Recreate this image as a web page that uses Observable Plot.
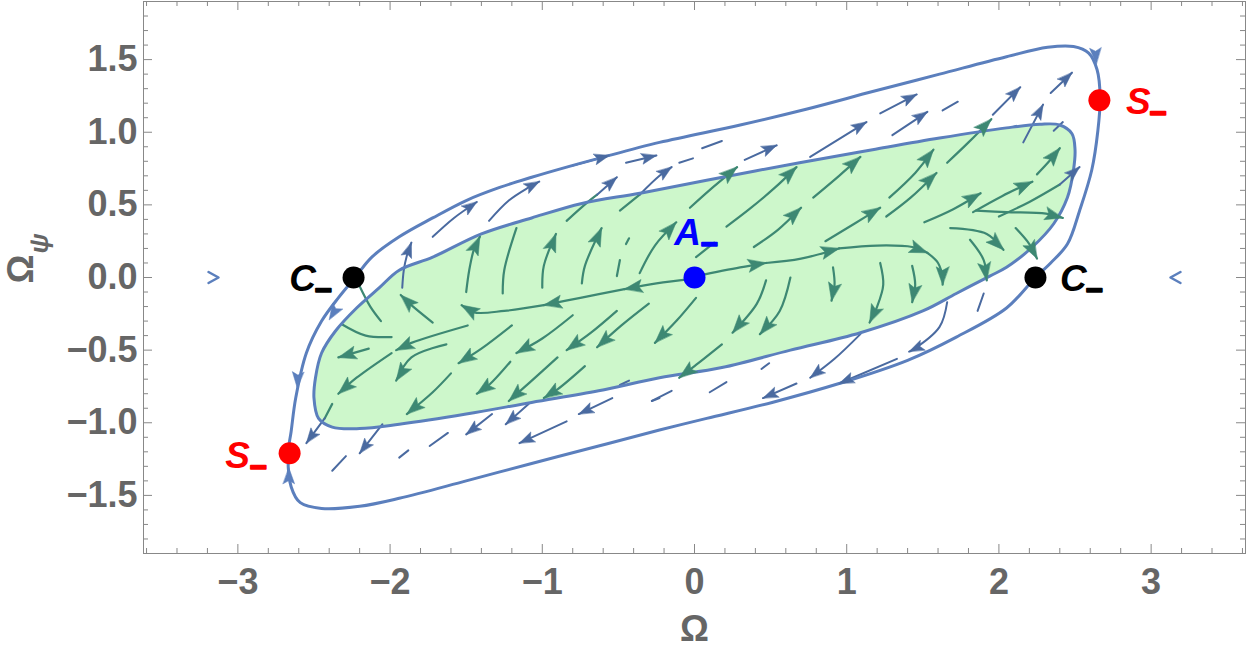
<!DOCTYPE html>
<html><head><meta charset="utf-8">
<script src="https://cdn.jsdelivr.net/npm/d3@7"></script>
<script src="https://cdn.jsdelivr.net/npm/@observablehq/plot@0.6"></script>
<style>body{margin:0;background:#fff}</style>
</head><body><div id="chart"></div>
<script>
// ---------- data ----------
const outerCurve = [[-2.23,0],[-2.12,0.14],[-1.94,0.28],[-1.72,0.41],[-1.50,0.53],[-1.28,0.62],[-1.07,0.69],[-0.84,0.76],[-0.63,0.82],[-0.23,0.93],[0.30,1.05],[0.74,1.16],[1.17,1.28],[1.61,1.40],[2.05,1.52],[2.32,1.585],[2.49,1.59],[2.59,1.545],[2.645,1.43],[2.665,1.24],[2.65,1.01],[2.61,0.74],[2.53,0.46],[2.45,0.23],[2.34,0.10],[2.24,0],[2.05,-0.21],[1.72,-0.41],[1.40,-0.57],[0.95,-0.73],[0.51,-0.86],[0.08,-0.97],[-0.23,-1.05],[-0.63,-1.16],[-1.07,-1.28],[-1.50,-1.40],[-1.94,-1.52],[-2.20,-1.575],[-2.45,-1.59],[-2.59,-1.55],[-2.65,-1.44],[-2.67,-1.21],[-2.65,-1.06],[-2.62,-0.83],[-2.55,-0.52],[-2.45,-0.30],[-2.34,-0.14]];

const innerCurve = [[-0.36,0.58],[0.08,0.67],[0.69,0.79],[1.17,0.88],[1.61,0.96],[2.05,1.03],[2.27,1.055],[2.40,1.05],[2.48,0.99],[2.50,0.88],[2.49,0.74],[2.45,0.55],[2.36,0.37],[2.22,0.21],[2.05,0.07],[1.94,0.01],[1.72,-0.11],[1.50,-0.23],[1.09,-0.38],[0.63,-0.50],[0.18,-0.62],[-0.23,-0.69],[-0.63,-0.78],[-1.07,-0.86],[-1.50,-0.94],[-1.94,-1.01],[-2.20,-1.04],[-2.38,-1.03],[-2.47,-0.97],[-2.50,-0.83],[-2.49,-0.69],[-2.45,-0.52],[-2.36,-0.37],[-2.22,-0.21],[-2.07,-0.07],[-1.94,0.05],[-1.72,0.14],[-1.40,0.30],[-1.07,0.41],[-0.74,0.51]];

// stream segments inside the green region that end with an arrowhead
const greenArrowed = [
 [[0.01,0.01],[0.30,0.07],[0.47,0.10]],
 [[0.47,0.10],[0.70,0.13],[0.95,0.20]],
 [[0.95,0.20],[1.20,0.22],[1.43,0.21],[1.53,0.17]],
 [[1.53,0.17],[1.60,0.10],[1.63,0.0],[1.63,-0.05]],
 [[-0.01,-0.01],[-0.25,-0.04],[-0.46,-0.08]],
 [[-0.46,-0.08],[-0.75,-0.14],[-0.99,-0.19]],
 [[-0.99,-0.19],[-1.25,-0.23],[-1.45,-0.24],[-1.53,-0.19]],
 [[-0.36,0.03],[-0.26,0.22],[-0.12,0.38]],
 [[-0.03,0.48],[0.12,0.62],[0.28,0.76]],
 [[0.21,0.35],[0.36,0.47],[0.53,0.62],[0.67,0.76]],
 [[0.39,0.21],[0.55,0.33],[0.70,0.48]],
 [[0.78,0.55],[0.95,0.70],[1.09,0.83]],
 [[0.86,0.25],[1.05,0.37],[1.22,0.48]],
 [[1.28,0.55],[1.45,0.72],[1.57,0.88]],
 [[1.26,0.42],[1.42,0.55],[1.59,0.72]],
 [[1.66,0.79],[1.80,0.93],[1.95,1.09]],
 [[1.51,0.38],[1.70,0.47],[1.88,0.58]],
 [[1.83,0.45],[2.02,0.56],[2.22,0.66]],
 [[2.25,0.71],[2.33,0.80],[2.40,0.89]],
 [[1.85,0.46],[2.05,0.45],[2.31,0.44],[2.42,0.41]],
 [[1.68,0.34],[1.92,0.30],[2.03,0.19]],
 [[1.81,0.26],[1.90,0.12],[1.92,-0.02]],
 [[2.11,0.34],[2.20,0.23],[2.25,0.13]],
 [[0.91,0.07],[0.92,-0.05],[0.90,-0.16]],
 [[1.22,0.10],[1.24,-0.05],[1.20,-0.20],[1.15,-0.31]],
 [[1.43,0.08],[1.45,-0.05],[1.43,-0.17]],
 [[0.01,-0.14],[-0.12,-0.30],[-0.26,-0.45]],
 [[0.47,-0.02],[0.41,-0.18],[0.25,-0.38]],
 [[0.63,0.0],[0.56,-0.23],[0.43,-0.39]],
 [[0.18,-0.46],[0.0,-0.61],[-0.10,-0.69]],
 [[-0.30,-0.18],[-0.48,-0.33],[-0.64,-0.48]],
 [[-0.72,-0.61],[-0.90,-0.77],[-0.99,-0.83]],
 [[-0.51,-0.23],[-0.68,-0.38],[-0.84,-0.50]],
 [[-0.90,-0.55],[-1.08,-0.72],[-1.22,-0.85]],
 [[-0.80,-0.26],[-1.00,-0.42],[-1.17,-0.52]],
 [[-1.21,-0.58],[-1.35,-0.74],[-1.43,-0.80]],
 [[-1.20,-0.33],[-1.40,-0.49],[-1.55,-0.59]],
 [[-1.60,-0.66],[-1.72,-0.79],[-1.89,-0.94]],
 [[-1.63,-0.46],[-1.86,-0.55],[-1.96,-0.71]],
 [[-1.49,-0.33],[-1.86,-0.45],[-1.96,-0.50]],
 [[-2.14,-0.49],[-2.34,-0.55]],
 [[-1.72,-0.31],[-1.86,-0.19],[-1.93,-0.12]],
 [[-1.99,-0.52],[-2.22,-0.69],[-2.34,-0.80]],
 [[-1.50,-0.10],[-1.48,0.05],[-1.45,0.19],[-1.41,0.28]],
 [[-1.00,-0.07],[-0.99,0.08],[-0.91,0.30]],
 [[-0.74,-0.04],[-0.72,0.08],[-0.61,0.34]]
];
// stream segments inside the green region without arrowhead
const greenPlain = [
 [[-2.20,-0.06],[-2.13,-0.20],[-2.06,-0.30]],
 [[-2.32,-0.32],[-2.16,-0.40],[-1.99,-0.41]],
 [[-2.38,-0.87],[-2.43,-0.97]],
 [[-0.84,0.39],[-0.70,0.52],[-0.64,0.57]],
 [[-0.49,0.46],[-0.36,0.57]],
 [[-1.26,-0.11],[-1.25,0.05],[-1.17,0.34]],
 [[-0.51,0.01],[-0.49,0.12]],
 [[-0.45,0.23],[-0.43,0.27]],
 [[0.01,0.14],[0.13,0.24]],
 [[2.00,0.42],[2.20,0.52],[2.40,0.64]]
];
// stream segments between the two curves
const blueArrowed = [
 [[-1.92,-0.07],[-1.91,0.05],[-1.89,0.15],[-1.86,0.24]],
 [[-1.72,0.28],[-1.58,0.41],[-1.43,0.52]],
 [[-1.35,0.39],[-1.22,0.53],[-1.09,0.62],[-1.02,0.66]],
 [[-0.80,0.77],[-0.56,0.84]],
 [[-0.64,0.57],[-0.51,0.69]],
 [[-0.45,0.79],[-0.25,0.84]],
 [[-0.36,0.57],[-0.23,0.70],[-0.15,0.76]],
 [[0.33,0.81],[0.54,0.91]],
 [[0.76,0.83],[1.13,1.07]],
 [[1.22,1.13],[1.46,1.26]],
 [[1.30,0.98],[1.53,1.14]],
 [[1.96,1.12],[2.14,1.31]],
 [[2.16,0.93],[2.29,1.19]],
 [[2.34,1.27],[2.48,1.41]],
 [[2.40,0.64],[2.53,0.76]],
 [[1.66,-0.17],[1.61,-0.34],[1.43,-0.50],[1.41,-0.51]],
 [[1.33,-0.56],[0.95,-0.73]],
 [[1.09,-0.39],[0.92,-0.56],[0.76,-0.69]],
 [[0.67,-0.73],[0.45,-0.83]],
 [[-2.43,-0.97],[-2.55,-1.14]],
 [[-2.05,-1.01],[-2.20,-1.21]],
 [[-1.33,-0.94],[-1.50,-1.08]],
 [[-1.09,-0.87],[-1.24,-1.01]],
 [[-0.84,-0.99],[-1.15,-1.14]],
 [[-0.54,-0.83],[-0.76,-0.94]]
];
const bluePlain = [
 [[-0.10,0.79],[-0.01,0.82]],
 [[0.05,0.89],[0.18,0.94]],
 [[1.63,1.15],[1.73,1.21]],
 [[2.36,1.01],[2.42,1.07]],
 [[1.86,-0.23],[1.90,-0.11]],
 [[-0.28,-0.85],[-0.15,-0.78]],
 [[0.10,-0.79],[0.21,-0.72]],
 [[0.44,-0.63],[0.49,-0.59]],
 [[-2.29,-1.23],[-2.38,-1.33]],
 [[-1.88,-1.19],[-1.94,-1.24]],
 [[-1.62,-1.07],[-1.74,-1.16]],
 [[-0.43,-0.71],[-0.49,-0.74]],
 [[-0.23,-0.83],[-0.28,-0.85]]
];
// arrowheads sitting on the outer curve: x, y, direction dx, dy
const outerArrows = [[2.64,1.47,0.06,-1],[-2.61,-0.76,-0.05,-1],[-2.665,-1.31,0,1],[-2.40,-0.29,-0.5,-0.85]];
// small chevrons on the Ω axis: x, y, direction dx
const chevrons = [[-3.16,0,1],[3.16,0,-1]];
// fixed points
const pointA = [[0,0]];
const pointsC = [[-2.24,0],[2.24,0]];
const pointsS = [[-2.66,-1.21],[2.66,1.22]];
// ticks
const xMajor = [-3,-2,-1,0,1,2,3];
const yMajor = [-1.5,-1,-0.5,0,0.5,1,1.5];
const xMinor = d3.range(-36,37,2).map(d=>d/10).filter(d=>!xMajor.includes(d));
const yMinor = d3.range(-18,19,1).map(d=>d/10).filter(d=>!yMajor.some(m=>Math.abs(m-d)<1e-9));

// ---------- layout ----------
const W=1250,H=661,ML=143,MR=5,MT=1,MB=108;
const X_DOMAIN=[-3.62,3.62], Y_DOMAIN=[-1.9,1.9];
const plotW=W-ML-MR, plotH=H-MT-MB;
const kx=plotW/(X_DOMAIN[1]-X_DOMAIN[0]), ky=plotH/(Y_DOMAIN[1]-Y_DOMAIN[0]);
const angle=(dx,dy)=>Math.atan2(dx*kx,dy*ky)*180/Math.PI;

const COL_CURVE="#5b7fbd", COL_GREEN="#3d8873", COL_BLUE="#4a6aa0", FILL="#cdf7cb";

const toRows=(segs)=>segs.flatMap((s,i)=>s.map(([x,y])=>({x,y,id:i})));
const heads=(segs)=>segs.map(s=>{const [x0,y0]=s[s.length-2],[x1,y1]=s[s.length-1];return {x:x1,y:y1,r:angle(x1-x0,y1-y0)};});
const rowsPts=(a)=>a.map(([x,y])=>({x,y}));

const headShape={draw(c,l){const w=l*0.36;c.moveTo(0,-l);c.lineTo(w,0);c.lineTo(0,-l*0.2);c.lineTo(-w,0);c.closePath();}};
const chevShape={draw(c,l){const w=l*0.55;c.moveTo(-w,0);c.lineTo(0,-l);c.lineTo(w,0);}};

const bold={fontWeight:"bold",fontStyle:"italic",fontSize:37};
const sub={fontWeight:"bold",fontSize:30,text:()=>"\u2212",strokeWidth:1.6};

const chart=Plot.plot({
  width:W,height:H,marginLeft:ML,marginRight:MR,marginTop:MT,marginBottom:MB,
  style:{fontFamily:"'Liberation Sans', Arial, sans-serif",background:"#fff"},
  x:{domain:X_DOMAIN,label:null},
  y:{domain:Y_DOMAIN,label:null},
  marks:[
    Plot.line(rowsPts(innerCurve),{x:"x",y:"y",fill:FILL,stroke:"none",curve:"catmull-rom-closed"}),
    Plot.line(toRows(greenArrowed.concat(greenPlain)),{x:"x",y:"y",z:"id",stroke:COL_GREEN,strokeWidth:2.2,curve:"catmull-rom"}),
    Plot.line(toRows(blueArrowed.concat(bluePlain)),{x:"x",y:"y",z:"id",stroke:COL_BLUE,strokeWidth:2,curve:"catmull-rom"}),
    Plot.line(rowsPts(innerCurve),{x:"x",y:"y",stroke:COL_CURVE,strokeWidth:3,curve:"catmull-rom-closed"}),
    Plot.line(rowsPts(outerCurve),{x:"x",y:"y",stroke:COL_CURVE,strokeWidth:3,curve:"catmull-rom-closed"}),
    Plot.vector(heads(greenArrowed),{x:"x",y:"y",rotate:"r",length:18,anchor:"end",shape:headShape,fill:COL_GREEN,stroke:COL_GREEN,strokeWidth:0.5}),
    Plot.vector(heads(blueArrowed),{x:"x",y:"y",rotate:"r",length:15,anchor:"end",shape:headShape,fill:COL_BLUE,stroke:COL_BLUE,strokeWidth:0.5}),
    Plot.vector(outerArrows,{x:d=>d[0],y:d=>d[1],rotate:d=>angle(d[2],d[3]),length:16,anchor:"end",shape:headShape,fill:COL_CURVE,stroke:COL_CURVE,strokeWidth:0.5}),
    Plot.vector(chevrons,{x:d=>d[0],y:d=>d[1],rotate:d=>angle(d[2],0),length:10,anchor:"middle",shape:chevShape,fill:"none",stroke:COL_CURVE,strokeWidth:2.5}),
    Plot.dot(pointA,{x:d=>d[0],y:d=>d[1],r:11,fill:"#0000ff"}),
    Plot.dot(pointsC,{x:d=>d[0],y:d=>d[1],r:11,fill:"#000"}),
    Plot.dot(pointsS,{x:d=>d[0],y:d=>d[1],r:11,fill:"#ff0000"}),
    // labels
    Plot.text(pointA,{x:d=>d[0],y:d=>d[1],text:()=>"A",dx:-7,dy:-44,fill:"#0000ff",...bold}),
    Plot.text(pointA,{x:d=>d[0],y:d=>d[1],dx:15,dy:-33,fill:"#0000ff",stroke:"#0000ff",...sub}),
    Plot.text([pointsC[0]],{x:d=>d[0],y:d=>d[1],text:()=>"C",dx:-51,dy:2,fill:"#000",...bold}),
    Plot.text([pointsC[0]],{x:d=>d[0],y:d=>d[1],dx:-30,dy:13,fill:"#000",stroke:"#000",...sub}),
    Plot.text([pointsC[1]],{x:d=>d[0],y:d=>d[1],text:()=>"C",dx:38,dy:2,fill:"#000",...bold}),
    Plot.text([pointsC[1]],{x:d=>d[0],y:d=>d[1],dx:59,dy:13,fill:"#000",stroke:"#000",...sub}),
    Plot.text([pointsS[1]],{x:d=>d[0],y:d=>d[1],text:()=>"S",dx:39,dy:2,fill:"#ff0000",...bold}),
    Plot.text([pointsS[1]],{x:d=>d[0],y:d=>d[1],dx:59,dy:13,fill:"#ff0000",stroke:"#ff0000",...sub}),
    Plot.text([pointsS[0]],{x:d=>d[0],y:d=>d[1],text:()=>"S",dx:-52,dy:3,fill:"#ff0000",...bold}),
    Plot.text([pointsS[0]],{x:d=>d[0],y:d=>d[1],dx:-31,dy:14,fill:"#ff0000",stroke:"#ff0000",...sub}),
    // frame ticks (inside, on all four sides)
    Plot.tickX(xMajor,{x:d=>d,insetTop:plotH-9,stroke:"#888"}),
    Plot.tickX(xMinor,{x:d=>d,insetTop:plotH-5,stroke:"#888"}),
    Plot.tickX(xMajor,{x:d=>d,insetBottom:plotH-9,stroke:"#888"}),
    Plot.tickX(xMinor,{x:d=>d,insetBottom:plotH-5,stroke:"#888"}),
    Plot.tickY(yMajor,{y:d=>d,insetRight:plotW-9,stroke:"#888"}),
    Plot.tickY(yMinor,{y:d=>d,insetRight:plotW-5,stroke:"#888"}),
    Plot.tickY(yMajor,{y:d=>d,insetLeft:plotW-9,stroke:"#888"}),
    Plot.tickY(yMinor,{y:d=>d,insetLeft:plotW-5,stroke:"#888"}),
    Plot.frame({stroke:"#888"}),
    Plot.axisX({ticks:xMajor,tickSize:0,tickPadding:15,fontSize:36,fontWeight:"bold",color:"#666",label:null,tickFormat:d3.format("d")}),
    Plot.axisY({ticks:yMajor,tickSize:0,tickPadding:6,fontSize:36,fontWeight:"bold",color:"#666",label:null,tickFormat:d3.format(".1f")}),
    Plot.text(["\u03a9"],{frameAnchor:"bottom",dy:87,fontSize:36,fontWeight:"bold",fill:"#666"}),
    Plot.text(["\u03a9"],{frameAnchor:"left",dx:-122,dy:6,rotate:-90,fontSize:36,fontWeight:"bold",fill:"#666"}),
    Plot.text(["\u03c8"],{frameAnchor:"left",dx:-104,dy:-24,rotate:-90,fontSize:26,fontWeight:"bold",fontStyle:"italic",fill:"#666"})
  ]
});
document.getElementById("chart").appendChild(chart);
</script>
</body></html>
